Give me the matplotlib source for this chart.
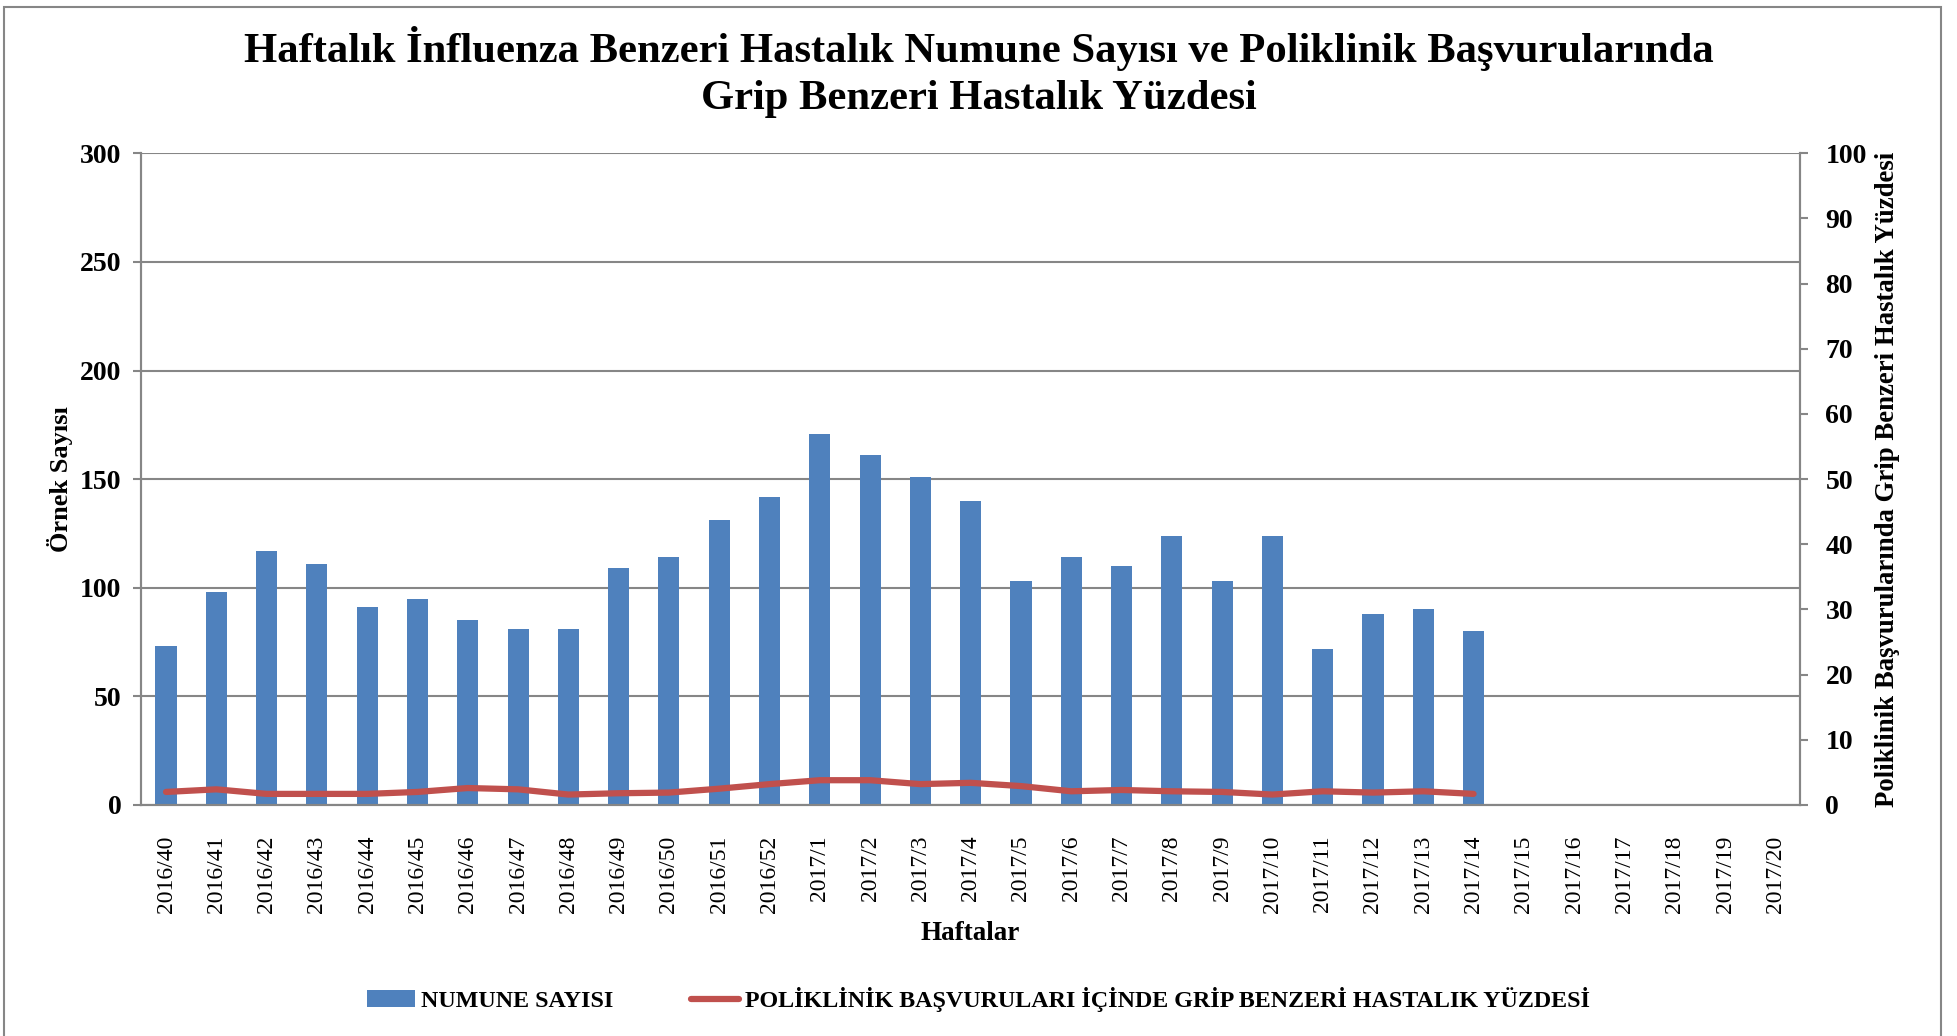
import matplotlib.pyplot as plt
import numpy as np
from matplotlib.patches import Rectangle

plt.rcParams['font.family'] = ['Liberation Serif', 'DejaVu Serif']
plt.rcParams['font.weight'] = 'bold'

haftalar = ['2016/%d' % i for i in range(40, 53)] + ['2017/%d' % i for i in range(1, 21)]
numune_sayisi = [73, 98, 117, 111, 91, 95, 85, 81, 81, 109, 114, 131, 142,
                 171, 161, 151, 140, 103, 114, 110, 124, 103, 124, 72, 88, 90, 80]
gbh_yuzdesi = [2.0, 2.4, 1.7, 1.7, 1.7, 2.0, 2.6, 2.4, 1.6, 1.8, 1.9, 2.5, 3.2,
               3.8, 3.8, 3.2, 3.4, 2.9, 2.1, 2.3, 2.1, 2.0, 1.6, 2.1, 1.9, 2.1, 1.7]

mavi = '#4f81bd'
kirmizi = '#c0504d'
gri = '#868686'

fig = plt.figure(figsize=(19.57, 10.36), dpi=100)
ax = fig.add_axes([0.072, 0.223, 0.848, 0.629])
ax2 = ax.twinx()

x = np.arange(len(haftalar))
ax.bar(x[:len(numune_sayisi)], numune_sayisi, width=0.42, color=mavi, zorder=2,
       label='NUMUNE SAYISI')
ax2.plot(x[:len(gbh_yuzdesi)], gbh_yuzdesi, color=kirmizi, linewidth=4.5,
         solid_capstyle='round', label='POLİKLİNİK BAŞVURULARI İÇİNDE GRİP BENZERİ HASTALIK YÜZDESİ')

ax.set_xlim(-0.5, len(haftalar) - 0.5)
ax.set_ylim(0, 300)
ax.set_yticks(np.arange(0, 301, 50))
ax2.set_ylim(0, 100)
ax2.set_yticks(np.arange(0, 101, 10))
ax.set_xticks(x)
ax.set_xticklabels(haftalar, rotation=90, fontsize=17, fontweight='normal')
ax.tick_params(axis='y', labelsize=20, length=6, color=gri, width=1.5, pad=8)
ax2.tick_params(axis='y', labelsize=20, length=6, color=gri, width=1.5, pad=12)
ax.tick_params(axis='x', length=0, pad=22)
ax.yaxis.grid(True, color=gri, linewidth=1.5, zorder=0)
ax.set_axisbelow(True)

for a in (ax, ax2):
    a.spines['top'].set_visible(False)
    for s in ('left', 'right', 'bottom'):
        a.spines[s].set_color(gri)
        a.spines[s].set_linewidth(1.5)

ax.set_ylabel('Örnek Sayısı', fontsize=19, fontweight='bold', labelpad=5)
ax2.set_ylabel('Poliklinik Başvurularında Grip Benzeri Hastalık Yüzdesi',
               fontsize=19.3, fontweight='bold', labelpad=6)
ax.set_xlabel('Haftalar', fontsize=19.5, fontweight='bold', labelpad=6)

fig.suptitle('Haftalık İnfluenza Benzeri Hastalık Numune Sayısı ve Poliklinik Başvurularında\n'
             'Grip Benzeri Hastalık Yüzdesi', fontsize=30.7, fontweight='bold', y=0.975,
             linespacing=1.3)

h1, l1 = ax.get_legend_handles_labels()
h2, l2 = ax2.get_legend_handles_labels()
fig.legend(h1 + h2, l1 + l2, loc='center', bbox_to_anchor=(0.5, 0.035), ncol=2,
           frameon=False, fontsize=17.3, columnspacing=3.2, handlelength=2.0,
           handletextpad=0.26)

fig.patches.append(Rectangle((0.002, -0.01), 0.99, 1.003, transform=fig.transFigure,
                             fill=False, edgecolor=gri, linewidth=1.5))

fig.savefig('out.png', dpi=100)
